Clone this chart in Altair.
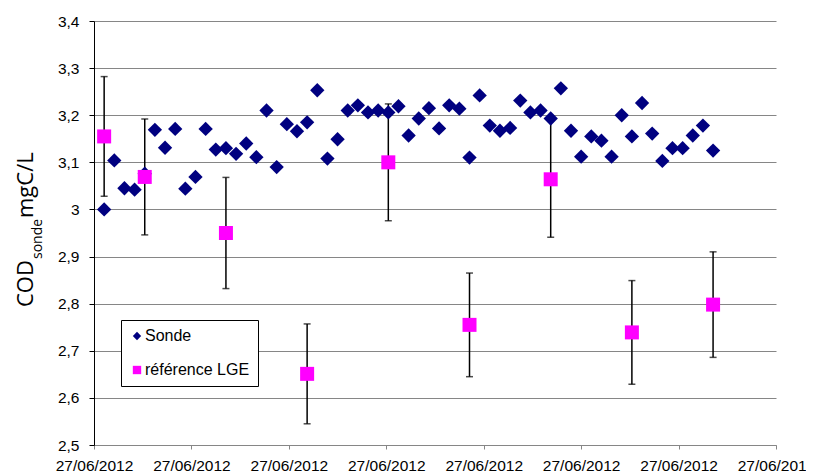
import json
import altair as alt
import pandas as pd

# ---------------- data ----------------
sonde_hours = [0.25, 0.5, 0.75, 1.0, 1.25, 1.5, 1.75, 2.0, 2.25, 2.5,
               2.75, 3.0, 3.25, 3.5, 3.75, 4.0, 4.25, 4.5, 4.75, 5.0,
               5.25, 5.5, 5.75, 6.0, 6.25, 6.5, 6.75, 7.0, 7.25, 7.5,
               7.75, 8.0, 8.25, 8.5, 8.75, 9.0, 9.25, 9.5, 9.75, 10.0,
               10.25, 10.5, 10.75, 11.0, 11.25, 11.5, 11.75, 12.0, 12.25, 12.5,
               12.75, 13.0, 13.25, 13.5, 13.75, 14.0, 14.25, 14.5, 14.75, 15.0,
               15.25]
sonde_values = [3.000, 3.104, 3.045, 3.042, 3.076, 3.169, 3.131, 3.171, 3.044, 3.069,
                3.171, 3.127, 3.130, 3.118, 3.140, 3.111, 3.210, 3.090, 3.181, 3.166,
                3.185, 3.253, 3.108, 3.149, 3.210, 3.221, 3.206, 3.210, 3.206, 3.219,
                3.157, 3.193, 3.215, 3.172, 3.221, 3.214, 3.110, 3.242, 3.178, 3.167,
                3.173, 3.231, 3.206, 3.210, 3.193, 3.257, 3.167, 3.112, 3.155, 3.146,
                3.112, 3.200, 3.155, 3.226, 3.161, 3.103, 3.130, 3.130, 3.157, 3.178,
                3.125]

lge_hours = [0.25, 1.25, 3.25, 5.25, 7.25, 9.25, 11.25, 13.25, 15.25]
lge_values = [3.155, 3.069, 2.950, 2.651, 3.100, 2.755, 3.064, 2.739, 2.798]
lge_errors = [0.127, 0.123, 0.118, 0.106, 0.124, 0.110, 0.123, 0.110, 0.112]

series = ["Sonde", "référence LGE"]
series_colors = ["#000080", "#FF00FF"]
series_shapes = ["diamond", "square"]

x_ticks = [0, 2.4, 4.8, 7.2, 9.6, 12.0, 14.4, 16.8]
x_tick_labels = ["27/06/2012", "27/06/2012", "27/06/2012", "27/06/2012",
                 "27/06/2012", "27/06/2012", "27/06/2012", "27/06/2012"]
y_ticks = [2.5, 2.6, 2.7, 2.8, 2.9, 3.0, 3.1, 3.2, 3.3, 3.4]
y_tick_labels = ["2,5", "2,6", "2,7", "2,8", "2,9", "3", "3,1", "3,2", "3,3", "3,4"]

title_main = "COD"
title_sub = "sonde"
title_unit = " mgC/L"

# ---------------- tables ----------------
sonde_df = pd.DataFrame({"h": sonde_hours, "v": sonde_values, "serie": series[0]})
lge_df = pd.DataFrame({"h": lge_hours, "v": lge_values, "e": lge_errors, "serie": series[1]})
lge_df["lo"] = lge_df["v"] - lge_df["e"]
lge_df["hi"] = lge_df["v"] + lge_df["e"]

FONT = "Liberation Sans"

x_enc = alt.X(
    "h:Q",
    scale=alt.Scale(domain=[x_ticks[0], x_ticks[-1]], nice=False, zero=False),
    axis=alt.Axis(
        values=x_ticks,
        labelExpr=f"{json.dumps(x_tick_labels)}[indexof({json.dumps(x_ticks)}, datum.value)]",
        title=None,
        grid=False,
        domainColor="#868686",
        tickColor="#868686",
        tickSize=4,
        labelFont=FONT,
        labelFontSize=15.5,
        labelColor="#000000",
        labelBaseline="alphabetic",
        labelPadding=21,
        labelFlush=False,
        labelOverlap=False,
    ),
)

y_axis = alt.Axis(
    values=y_ticks,
    labelExpr=f"{json.dumps(y_tick_labels)}[indexof({json.dumps(y_ticks)}, datum.value)]",
    title=None,
    grid=True,
    gridColor="#868686",
    gridWidth=1,
    domainColor="#000000",
    tickColor="#000000",
    tickSize=5,
    labelFont=FONT,
    labelFontSize=15.5,
    labelColor="#000000",
    labelPadding=10,
    labelFlush=False,
)
y_scale = alt.Scale(domain=[y_ticks[0], y_ticks[-1]], nice=False, zero=False)

color_enc = alt.Color(
    "serie:N",
    scale=alt.Scale(domain=series, range=series_colors),
    legend=alt.Legend(
        title=None,
        orient="none",
        legendX=27,
        legendY=299,
        direction="vertical",
        strokeColor="#000000",
        fillColor="#ffffff",
        padding=8,
        rowPadding=18,
        symbolSize=70,
        symbolStrokeWidth=0,
        labelFont=FONT,
        labelFontSize=16,
        labelColor="#000000",
        labelOffset=0,
    ),
)
shape_enc = alt.Shape("serie:N", scale=alt.Scale(domain=series, range=series_shapes))

errbars = alt.Chart(lge_df).mark_errorbar(
    ticks={"size": 7, "thickness": 1.5, "color": "#000000"},
    rule={"strokeWidth": 1.5, "color": "#000000"},
    color="#000000",
).encode(
    x=x_enc,
    y=alt.Y("lo:Q", scale=y_scale, axis=y_axis),
    y2="hi:Q",
)

sonde_pts = alt.Chart(sonde_df).mark_point(filled=True, opacity=1, size=205).encode(
    x=x_enc,
    y=alt.Y("v:Q", scale=y_scale, axis=y_axis),
    color=color_enc,
    shape=shape_enc,
)

lge_pts = alt.Chart(lge_df).mark_point(filled=True, opacity=1, size=196).encode(
    x=x_enc,
    y=alt.Y("v:Q", scale=y_scale, axis=y_axis),
    color=color_enc,
    shape=shape_enc,
)

t_main = alt.Chart(pd.DataFrame({"t": [title_main]})).mark_text(
    angle=270, align="left", baseline="alphabetic", font="Open Sans", fontSize=22, color="#000000"
).encode(text="t:N", x=alt.value(-61), y=alt.value(286))

t_sub = alt.Chart(pd.DataFrame({"t": [title_sub]})).mark_text(
    angle=270, align="left", baseline="alphabetic", font="Open Sans", fontSize=14, color="#000000"
).encode(text="t:N", x=alt.value(-52), y=alt.value(238))

t_unit = alt.Chart(pd.DataFrame({"t": [title_unit]})).mark_text(
    angle=270, align="left", baseline="alphabetic", font="Open Sans", fontSize=22, color="#000000"
).encode(text="t:N", x=alt.value(-61), y=alt.value(197))

chart = alt.layer(errbars, sonde_pts, lge_pts, t_main, t_sub, t_unit).properties(
    width=682,
    height=424,
    autosize=alt.AutoSizeParams(type="none"),
    padding={"left": 86, "top": 13, "right": 30, "bottom": 28},
    background="#ffffff",
).configure_view(stroke=None)

chart.save("out.html", embed_options={"renderer": "svg", "actions": False})
